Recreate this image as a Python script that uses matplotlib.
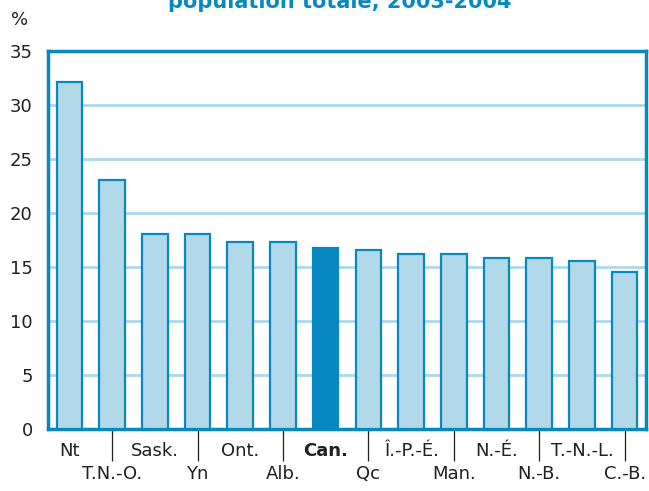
import matplotlib
matplotlib.use('Agg')
import matplotlib.pyplot as plt

# données
provinces = ['Nt', 'T.N.-O.', 'Sask.', 'Yn', 'Ont.', 'Alb.', 'Can.', 'Qc',
             'Î.-P.-É.', 'Man.', 'N.-É.', 'N.-B.', 'T.-N.-L.', 'C.-B.']
pourcent = [32.1, 23.1, 18.1, 18.1, 17.3, 17.3, 16.8, 16.6,
            16.2, 16.2, 15.8, 15.8, 15.6, 14.5]
y_ticks = [0, 5, 10, 15, 20, 25, 30, 35]
titre = 'population totale, 2003-2004'

bleu = '#0888c0'
bleu_clair = '#b2d9e9'
grille = '#acd8ea'
texte = '#231f20'

plt.rcParams['font.family'] = ['Liberation Sans Narrow', 'DejaVu Sans']

fig = plt.figure(figsize=(6.49, 4.91), dpi=100)
ax = fig.add_axes([48/649, 62/491, 598/649, 378/491])

x = list(range(len(provinces)))
couleurs = [bleu if p == 'Can.' else bleu_clair for p in provinces]
ax.bar(x, pourcent, width=0.6, color=couleurs, edgecolor=bleu, linewidth=1.6, zorder=3)

ax.set_xlim(-0.5, len(provinces) - 0.5)
ax.set_ylim(0, 35)
ax.set_yticks(y_ticks)
ax.set_yticklabels([str(v) for v in y_ticks], fontsize=13, color=texte)
ax.yaxis.grid(True, color=grille, linewidth=2, zorder=0)
ax.set_axisbelow(True)
ax.tick_params(axis='y', length=0, pad=11)

# étiquettes en deux rangées
ax.set_xticks(x[0::2])
ax.set_xticklabels(provinces[0::2], fontsize=13, color=texte)
ax.set_xticks(x[1::2], minor=True)
ax.set_xticklabels(provinces[1::2], minor=True, fontsize=13, color=texte)
ax.tick_params(axis='x', which='major', length=0, pad=9)
ax.tick_params(axis='x', which='minor', length=23, width=0.9, color=texte, pad=3)
for lab in ax.get_xticklabels():
    if lab.get_text() == 'Can.':
        lab.set_fontweight('bold')

for s in ax.spines.values():
    s.set_color(bleu)
    s.set_linewidth(2.5)

fig.text(20/649, 1 - 20/491, '%', fontsize=13, color=texte, ha='center', va='center')
fig.text(340/649, 1 - 8/491, titre, fontsize=15, fontweight='bold', color=bleu,
         ha='center', va='baseline')

fig.savefig('out.png', dpi=100)
